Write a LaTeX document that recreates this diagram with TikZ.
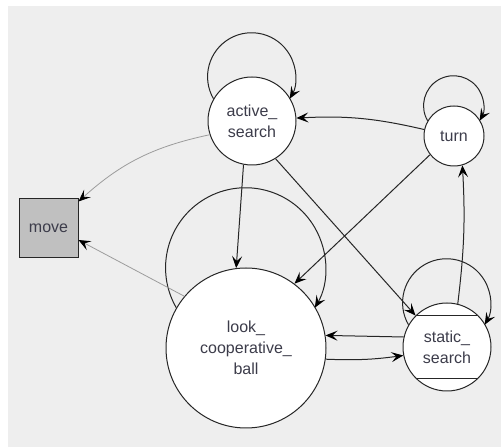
\documentclass[tikz,border=0pt]{standalone}
\usepackage{fontspec}
\setmainfont{Liberation Sans}
\usetikzlibrary{arrows.meta}
\definecolor{fundo}{HTML}{EEEEEE}
\definecolor{caixa}{HTML}{C0C0C0}
\definecolor{texto}{HTML}{3C3C4A}
\definecolor{cinza}{HTML}{9C9C9C}

\begin{document}
\begin{tikzpicture}[x=1pt, y=1pt,
    estado/.style={circle, draw=black!85, fill=white, line width=1pt, text=texto,
      align=center, inner sep=0pt, font=\fontsize{16}{21}\selectfont},
    seta/.style={-{Stealth[length=12pt, width=10pt, inset=5pt, color=black]},
      line width=1pt, draw=black!85},
    seta cinza/.style={seta, draw=cinza, line width=0.8pt}]
    % Fundo
    \useasboundingbox[fill=white] (0,0) rectangle (501,447);
    \fill[fundo] (8,0) rectangle (501,441);
    % Estados
    \node[estado, minimum size=88pt] (active) at (252,326) {active\_\\search};
    \node[estado, minimum size=60pt] (turn) at (454,311) {turn};
    \node[estado, minimum size=160pt] (look) at (246,99) {look\_\\cooperative\_\\ball};
    \node[estado, minimum size=88pt] (static) at (447,100) {static\_\\search};
    \node[estado, shape=rectangle, fill=caixa, minimum size=59pt] (move) at (48.5,218.5) {move};
    % Linhas do estado static
    \draw[line width=1pt, black!85] (static.135) -- (static.45);
    \draw[line width=1pt, black!85] (static.-135) -- (static.-45);
    % Lacos
    \draw[seta] (active.150) arc[start angle=210, end angle=-30, radius=44];
    \draw[seta] (turn.150) arc[start angle=210, end angle=-30, radius=30];
    \draw[seta] (static.150) arc[start angle=210, end angle=-30, radius=44];
    \draw[seta] (look.150) arc[start angle=210, end angle=-30, radius=80];
    % Transicoes
    \draw[seta] (turn) to[bend right=8] (active);
    \draw[seta] (turn.218) -- (look.53);
    \draw[seta] (active.259) -- (look.97);
    \draw[seta] (active.302) -- (static.135);
    \draw[seta] (static.167) -- (look.9);
    \draw[seta] (look.-8) to[bend right=5] (static.191);
    \draw[seta] (static.76) to[bend right=5] (turn.286);
    % Saidas para move
    \draw[seta cinza] (active.198) to[bend right=15] (move.42);
    \draw[seta cinza] (look.140) -- (move.-21);
\end{tikzpicture}
\end{document}
